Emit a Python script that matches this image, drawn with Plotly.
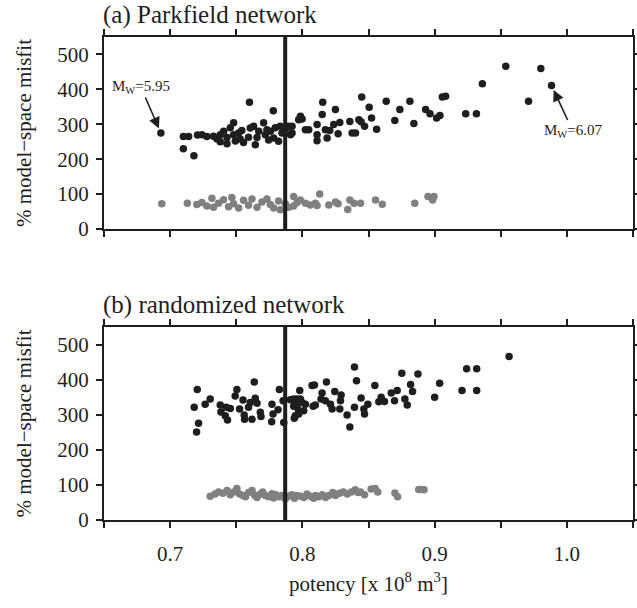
import plotly.graph_objects as go

# ---------------- data ----------------
# (a) Parkfield network
a_black_x = [0.693, 0.710, 0.714, 0.710, 0.718, 0.7207, 0.724, 0.7278,
             0.7328, 0.7354, 0.7379, 0.7379, 0.7405, 0.743, 0.7430, 0.7455, 0.7480, 0.7480,
             0.7493, 0.7518, 0.7530, 0.7542, 0.7555, 0.7593, 0.7600, 0.7606, 0.7631, 0.7644,
             0.7657, 0.7670, 0.7707, 0.7720, 0.7732, 0.7745, 0.7758, 0.7780, 0.7783, 0.7795,
             0.7820, 0.7833, 0.7846, 0.7871, 0.7896, 0.7910, 0.7922, 0.7922, 0.7972, 0.7985,
             0.7998, 0.8023, 0.8048, 0.8111, 0.8111, 0.8111, 0.8150, 0.8154, 0.8174, 0.8187,
             0.8207, 0.8237, 0.8250, 0.8270, 0.8283, 0.8359, 0.8376, 0.8402, 0.8427, 0.8444,
             0.8449, 0.8470, 0.8505, 0.8523, 0.8561, 0.8634, 0.8699, 0.8737, 0.8813, 0.8843,
             0.8932, 0.8965, 0.9015, 0.9040, 0.9058, 0.9083, 0.9235, 0.9316, 0.9361, 0.9538,
             0.9710, 0.9803, 0.9884]
a_black_y = [275, 265, 265, 230, 210, 269, 270, 265,
             266, 258, 250, 270, 280, 262, 244, 290, 304, 270,
             252, 275, 258, 282, 248, 263, 363, 289, 294, 241,
             262, 280, 304, 270, 284, 255, 280, 339, 261, 290,
             251, 294, 275, 286, 294, 270, 294, 275, 313, 323,
             315, 284, 284, 299, 270, 253, 328, 363, 284, 261,
             282, 299, 342, 273, 305, 308, 275, 275, 313, 307,
             378, 294, 349, 318, 286, 366, 311, 342, 366, 302,
             342, 330, 318, 325, 378, 380, 330, 330, 416, 466,
             366, 460, 411]
a_grey_x = [0.6937, 0.713, 0.7202, 0.724, 0.7278, 0.7316, 0.7328, 0.7366, 0.7404, 0.7442,
            0.7467, 0.748, 0.7518, 0.7555, 0.7593, 0.7619, 0.7657, 0.7694, 0.7732, 0.7758,
            0.7783, 0.782, 0.7833, 0.7871, 0.7896, 0.7934, 0.7934, 0.796, 0.7985, 0.8023,
            0.806, 0.8098, 0.8111, 0.8131, 0.82, 0.825, 0.827, 0.8343, 0.8359, 0.839,
            0.844, 0.8553, 0.8604, 0.885, 0.895, 0.8995, 0.8985]
a_grey_y = [72, 74, 70, 76, 66, 88, 62, 74, 84, 64,
            90, 72, 60, 82, 68, 86, 62, 77, 86, 70,
            60, 80, 55, 72, 62, 93, 66, 76, 83, 74,
            69, 74, 67, 100, 69, 77, 72, 56, 83, 74,
            74, 83, 71, 74, 93, 93, 83]

# (b) randomized network
b_black_x = [0.7205, 0.7182, 0.7215, 0.7200, 0.7265, 0.7303, 0.7379, 0.7384, 0.7424, 0.7455,
             0.7417, 0.7434, 0.7505, 0.7492, 0.7551, 0.7525, 0.7560, 0.7563, 0.7593, 0.7606,
             0.7636, 0.7644, 0.7657, 0.7619, 0.7682, 0.7687, 0.7770, 0.7778, 0.7768, 0.7826,
             0.7854, 0.7816, 0.7859, 0.7909, 0.7934, 0.7960, 0.7947, 0.7980, 0.7972, 0.7934,
             0.7947, 0.7960, 0.7972, 0.7939, 0.7985, 0.7997, 0.8010, 0.8023, 0.8073, 0.8091,
             0.8081, 0.8098, 0.8149, 0.8141, 0.8182, 0.8174, 0.8212, 0.8225, 0.8245, 0.8283,
             0.8288, 0.8293, 0.8338, 0.8359, 0.8394, 0.8409, 0.8394, 0.8444, 0.8465, 0.8470,
             0.8495, 0.8548, 0.8578, 0.8596, 0.8621, 0.8672, 0.8697, 0.8717, 0.8752, 0.8775,
             0.8793, 0.8818, 0.8833, 0.8874, 0.9000, 0.9038, 0.9207, 0.9242, 0.9318, 0.9318,
             0.9563]
b_black_y = [372, 321, 276, 251, 330, 345, 328, 308, 321, 318,
             297, 285, 372, 353, 342, 316, 299, 287, 321, 335,
             393, 347, 333, 287, 307, 295, 330, 302, 280, 372,
             340, 314, 278, 343, 324, 345, 297, 369, 311, 345,
             330, 321, 302, 290, 345, 335, 311, 330, 383, 385,
             324, 328, 362, 345, 393, 340, 330, 316, 366, 316,
             340, 356, 299, 265, 436, 397, 321, 348, 316, 302,
             330, 383, 337, 350, 338, 362, 340, 369, 418, 345,
             328, 386, 366, 416, 350, 390, 369, 431, 431, 369,
             466]
b_grey_x = [0.7303, 0.7340, 0.7366, 0.7400, 0.7430, 0.7455, 0.7480, 0.7505, 0.7525, 0.7550,
            0.7570, 0.7593, 0.7620, 0.7640, 0.7657, 0.7682, 0.7700, 0.7720, 0.7745, 0.7770,
            0.7783, 0.7800, 0.7826, 0.7846, 0.7871, 0.7896, 0.7920, 0.7940, 0.7960, 0.7985,
            0.8010, 0.8035, 0.8060, 0.8085, 0.8100, 0.8125, 0.8150, 0.8175, 0.8200, 0.8230,
            0.8250, 0.8280, 0.8310, 0.8340, 0.8370, 0.8400, 0.8420, 0.8440, 0.8470, 0.8520,
            0.8550, 0.8570, 0.8700, 0.8720, 0.8880, 0.8900, 0.8920]
b_grey_y = [68, 74, 80, 76, 84, 72, 80, 90, 74, 70,
            66, 78, 84, 70, 64, 74, 80, 70, 66, 75,
            63, 72, 66, 70, 60, 68, 72, 62, 70, 68,
            64, 74, 68, 62, 70, 66, 72, 64, 70, 78,
            70, 76, 80, 74, 80, 86, 78, 80, 72, 88,
            90, 80, 77, 66, 87, 87, 86]

mean_potency = 0.787
x_ticks = [0.7, 0.8, 0.9, 1.0]
x_ticktext = ["0.7", "0.8", "0.9", "1.0"]
y_ticks = [0, 100, 200, 300, 400, 500]
panel_titles = ["(a) Parkfield network", "(b) randomized network"]
y_title = "% model\u2212space misfit"
x_title = "potency [x 10<sup>8</sup> m<sup>3</sup>]"
labels = [("M<sub>W</sub>=5.95", 0.693, 275, -20, -46), ("M<sub>W</sub>=6.07", 0.9884, 411, 21, 45)]

# ---------------- figure ----------------
FONT = "Liberation Serif"
INK = "#1e1e1e"
GREY = "#808080"

fig = go.Figure()
mk = dict(size=7.5, line=dict(width=0))
fig.add_trace(go.Scatter(x=a_grey_x, y=a_grey_y, mode="markers", marker=dict(color=GREY, **mk),
                         xaxis="x", yaxis="y", showlegend=False))
fig.add_trace(go.Scatter(x=a_black_x, y=a_black_y, mode="markers", marker=dict(color=INK, **mk),
                         xaxis="x", yaxis="y", showlegend=False))
fig.add_trace(go.Scatter(x=b_grey_x, y=b_grey_y, mode="markers", marker=dict(color=GREY, **mk),
                         xaxis="x2", yaxis="y2", showlegend=False))
fig.add_trace(go.Scatter(x=b_black_x, y=b_black_y, mode="markers", marker=dict(color=INK, **mk),
                         xaxis="x2", yaxis="y2", showlegend=False))

axis_common = dict(showline=True, linewidth=2, linecolor=INK, mirror="allticks",
                   ticks="outside", ticklen=6, tickwidth=1.5, tickcolor=INK,
                   showgrid=False, zeroline=False, automargin=False,
                   tickfont=dict(family=FONT, size=21, color=INK))
xa = dict(axis_common, range=[0.65, 1.05], tickvals=x_ticks, ticktext=x_ticktext,
          ticklabelstandoff=8,
          minor=dict(tickvals=[0.65, 0.75, 0.85, 0.95, 1.05], ticks="outside", ticklen=6,
                     tickwidth=1.5, tickcolor=INK, showgrid=False))
ya = dict(axis_common, range=[0, 550], tickvals=y_ticks, ticklabelstandoff=3,
          title=dict(text=y_title, font=dict(family=FONT, size=21, color=INK), standoff=20))

fig.update_layout(
    width=637, height=608,
    margin=dict(l=104, r=4, t=37, b=88),
    paper_bgcolor="white", plot_bgcolor="white",
    font=dict(family=FONT, color=INK),
    xaxis=dict(xa, domain=[0, 1], anchor="y", showticklabels=False),
    yaxis=dict(ya, domain=[0.6025, 1.0], anchor="x"),
    xaxis2=dict(xa, domain=[0, 1], anchor="y2",
                title=dict(text=x_title, font=dict(family=FONT, size=21, color=INK), standoff=11)),
    yaxis2=dict(ya, domain=[0.0, 0.3996], anchor="x2"),
)

for xr, yr in (("x", "y domain"), ("x2", "y2 domain")):
    fig.add_shape(type="line", xref=xr, yref=yr, x0=mean_potency, x1=mean_potency, y0=0, y1=1,
                  line=dict(color=INK, width=4), layer="above")

for txt, ytop in zip(panel_titles, [1.0, 0.3996]):
    fig.add_annotation(text=txt, xref="paper", yref="paper", x=0, y=ytop,
                       xanchor="left", yanchor="bottom", showarrow=False, xshift=-3, yshift=6,
                       font=dict(family=FONT, size=25, color=INK))

for txt, px, py, ax, ay in labels:
    fig.add_annotation(text=txt, x=px, y=py, xref="x", yref="y", ax=ax, ay=ay,
                       showarrow=True, arrowhead=2, arrowsize=1.4, arrowwidth=1.6,
                       arrowcolor=INK, standoff=5, font=dict(family=FONT, size=15, color=INK))

fig.write_html("out.html", post_script="document.body.style.margin='0';",
               config={"displayModeBar": False})
